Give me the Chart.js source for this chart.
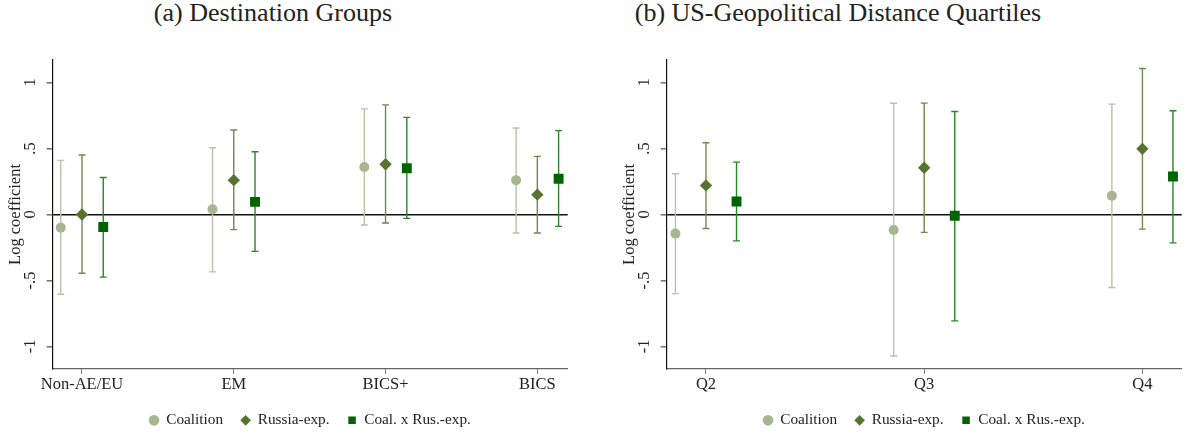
<!DOCTYPE html>
<html lang="en">
<head>
<meta charset="UTF-8">
<title>Destination groups and geopolitical distance</title>
<script src="https://cdn.jsdelivr.net/npm/chart.js"></script>
<style>
  body { margin: 0; width: 1190px; height: 434px; overflow: hidden; background: #fff; position: relative; font-family: "Liberation Serif", serif; }
  .panel { position: absolute; top: 0; width: 614px; height: 434px; }
  .panel canvas { display: block; }
  .title { position: absolute; top: -2px; font-size: 26px; line-height: 30px; color: #222; white-space: nowrap; transform: translateX(-50%); }
</style>
</head>
<body>
<div class="title" style="left:273px">(a) Destination Groups</div>
<div class="title" style="left:838px">(b) US-Geopolitical Distance Quartiles</div>
<div class="panel" style="left:0"><canvas id="chartA" width="614" height="434"></canvas></div>
<div class="panel" style="left:614px"><canvas id="chartB" width="614" height="434"></canvas></div>
<script>
// series
const seriesNames = ['Coalition', 'Russia-exp.', 'Coal. x Rus.-exp.'];

// (a) destination groups
const catsA = ['Non-AE/EU', 'EM', 'BICS+', 'BICS'];
const coalA   = [-0.10, 0.04, 0.36, 0.26];
const coalALo = [-0.605, -0.435, -0.08, -0.14];
const coalAHi = [0.41, 0.505, 0.80, 0.655];
const rusA    = [0.00, 0.26, 0.38, 0.15];
const rusALo  = [-0.445, -0.115, -0.065, -0.14];
const rusAHi  = [0.45, 0.64, 0.83, 0.44];
const crA     = [-0.095, 0.095, 0.35, 0.27];
const crALo   = [-0.475, -0.28, -0.03, -0.09];
const crAHi   = [0.28, 0.475, 0.735, 0.635];

// (b) US-geopolitical distance quartiles
const catsB = ['Q2', 'Q3', 'Q4'];
const coalB   = [-0.145, -0.118, 0.141];
const coalBLo = [-0.60, -1.072, -0.553];
const coalBHi = [0.308, 0.842, 0.836];
const rusB    = [0.22, 0.354, 0.497];
const rusBLo  = [-0.106, -0.136, -0.111];
const rusBHi  = [0.543, 0.843, 1.106];
const crB     = [0.098, -0.01, 0.288];
const crBLo   = [-0.20, -0.806, -0.215];
const crBHi   = [0.396, 0.78, 0.785];

// y axis ticks
const yTickValues = [-1, -0.5, 0, 0.5, 1];
const yTickLabels = ['-1', '-.5', '0', '.5', '1'];

const FONT = 'Liberation Serif';
const markerStyles = ['circle', 'rectRot', 'rect'];
const markerColors = ['#a6b592', '#56742f', '#006400'];
const barColors = ['#b8c4a6', '#6e8b4a', '#2b862b'];
const markerRadius = [5, 6.2, 7];
const shift = [-0.14, 0, 0.14];

// whiskers with caps, drawn under the markers
const errorBars = {
  id: 'errorBars',
  beforeDatasetsDraw(chart) {
    const { ctx, scales: { x, y } } = chart;
    ctx.save();
    ctx.lineWidth = 1.4;
    chart.data.datasets.forEach(ds => {
      ctx.strokeStyle = ds.barColor;
      ds.data.forEach((p, i) => {
        const px = x.getPixelForValue(p.x);
        const top = y.getPixelForValue(ds.errHi[i]);
        const bot = y.getPixelForValue(ds.errLo[i]);
        ctx.beginPath();
        ctx.moveTo(px, top); ctx.lineTo(px, bot);
        ctx.moveTo(px - 3.5, top); ctx.lineTo(px + 3.5, top);
        ctx.moveTo(px - 3.5, bot); ctx.lineTo(px + 3.5, bot);
        ctx.stroke();
      });
    });
    ctx.restore();
  }
};

// stata style vertical y tick labels
const rotatedYTicks = {
  id: 'rotatedYTicks',
  afterDraw(chart) {
    const { ctx, scales: { y } } = chart;
    ctx.save();
    ctx.fillStyle = '#222';
    ctx.font = '16.5px "' + FONT + '"';
    ctx.textAlign = 'center';
    ctx.textBaseline = 'alphabetic';
    yTickValues.forEach((v, i) => {
      ctx.save();
      ctx.translate(y.right - 18, y.getPixelForValue(v));
      ctx.rotate(-Math.PI / 2);
      ctx.fillText(yTickLabels[i], 0, 0);
      ctx.restore();
    });
    ctx.restore();
  }
};

function makeChart(id, cats, est, lo, hi, xMin, xMax) {
  const ctx = document.getElementById(id).getContext('2d');
  return new Chart(ctx, {
    type: 'scatter',
    data: {
      datasets: seriesNames.map((name, s) => ({
        label: name,
        data: cats.map((c, i) => ({ x: i + shift[s], y: est[s][i] })),
        errLo: lo[s],
        errHi: hi[s],
        barColor: barColors[s],
        pointStyle: markerStyles[s],
        pointRadius: markerRadius[s],
        pointBackgroundColor: markerColors[s],
        pointBorderColor: markerColors[s],
        backgroundColor: markerColors[s],
        borderColor: markerColors[s],
        pointBorderWidth: 0,
        showLine: false
      }))
    },
    options: {
      responsive: false,
      animation: false,
      events: [],
      layout: { padding: { top: 60, right: 46.3, left: 0, bottom: -4 } },
      scales: {
        x: {
          type: 'linear',
          min: xMin,
          max: xMax,
          afterBuildTicks: s => { s.ticks = cats.map((c, i) => ({ value: i })); },
          afterFit: s => { s.height = 25.8; },
          ticks: {
            callback: v => cats[v] ?? '',
            autoSkip: false,
            maxRotation: 0,
            padding: 1,
            color: '#222',
            font: { family: FONT, size: 16.5 }
          },
          grid: { drawOnChartArea: false, tickLength: 5, color: '#777', tickColor: '#777' },
          border: { color: '#666', width: 1.2 }
        },
        y: {
          min: -1.17,
          max: 1.17,
          afterBuildTicks: s => { s.ticks = yTickValues.map(v => ({ value: v })); },
          afterFit: s => { s.width = 52.7; },
          ticks: { display: false },
          grid: {
            color: c => (c.tick && c.tick.value === 0 ? '#111' : 'rgba(0,0,0,0)'),
            lineWidth: 1.6,
            tickColor: '#777',
            tickLength: 6
          },
          border: { color: '#111', width: 1.2 },
          title: {
            display: true,
            text: 'Log coefficient',
            color: '#222',
            font: { family: FONT, size: 16.5 },
            padding: { top: 6, bottom: 0 }
          }
        }
      },
      plugins: {
        title: { display: false },
        tooltip: { enabled: false },
        legend: {
          position: 'bottom',
          fullSize: false,
          labels: {
            usePointStyle: true,
            boxWidth: 9,
            boxHeight: 7.5,
            padding: 18,
            color: '#222',
            font: { family: FONT, size: 15.3 }
          }
        }
      }
    },
    plugins: [errorBars, rotatedYTicks]
  });
}

makeChart('chartA', catsA,
  [coalA, rusA, crA], [coalALo, rusALo, crALo], [coalAHi, rusAHi, crAHi], -0.193, 3.2);
makeChart('chartB', catsB,
  [coalB, rusB, crB], [coalBLo, rusBLo, crBLo], [coalBHi, rusBHi, crBHi], -0.18, 2.18);
</script>
</body>
</html>
